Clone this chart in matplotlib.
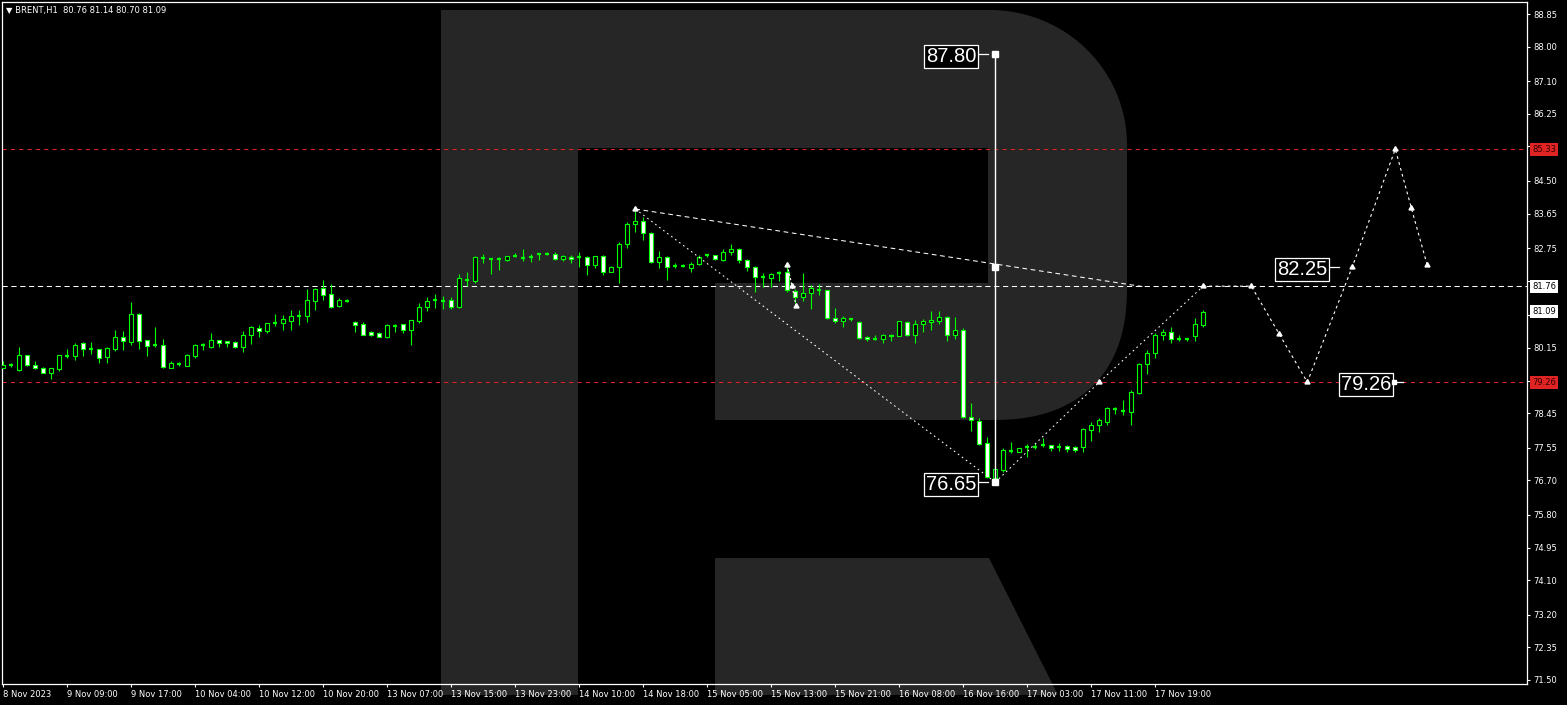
import matplotlib
matplotlib.use('Agg')
import matplotlib.pyplot as plt
import matplotlib.transforms as mtransforms
from matplotlib.patches import Rectangle, Polygon
import numpy as np

W, H = 1567, 705
GREEN = '#00ff00'
RED = '#e02424'
GRAY = '#262626'

# ---------------- data (BRENT, H1) ----------------
opens = [79.64, 79.70, 79.57, 79.96, 79.70, 79.64, 79.51, 79.61, 79.95, 79.95,
         80.27, 80.13, 80.11, 79.92, 80.13, 80.43, 80.31, 81.03, 80.35, 80.22,
         80.22, 79.64, 79.73, 79.69, 79.95, 80.22, 80.18, 80.35, 80.32, 80.30,
         80.18, 80.50, 80.66, 80.60, 80.81, 80.81, 80.86, 80.98, 80.99, 81.38,
         81.70, 81.56, 81.25, 81.38, 80.82, 80.77, 80.57, 80.53, 80.44, 80.72,
         80.77, 80.63, 80.85, 81.21, 81.40, 81.38, 81.39, 81.21, 81.92, 81.90,
         82.49, 82.46, 82.47, 82.45, 82.54, 82.50, 82.53, 82.59, 82.61, 82.61,
         82.46, 82.53, 82.51, 82.51, 82.30, 82.54, 82.14, 82.25, 82.87, 83.37,
         83.47, 83.14, 82.40, 82.53, 82.28, 82.29, 82.22, 82.33, 82.56, 82.56,
         82.44, 82.65, 82.74, 82.43, 82.25, 81.99, 81.96, 82.11, 82.12, 81.64,
         81.49, 81.57, 81.67, 81.65, 80.94, 80.86, 80.90, 80.82, 80.43, 80.39,
         80.39, 80.50, 80.46, 80.83, 80.48, 80.77, 80.82, 80.86, 80.95, 80.48,
         80.62, 78.34, 78.24, 77.67, 76.75, 76.97, 77.47, 77.45, 77.58, 77.58,
         77.61, 77.61, 77.58, 77.59, 77.57, 77.58, 78.00, 78.13, 78.23, 78.55,
         78.52, 78.49, 78.98, 79.72, 80.01, 80.48, 80.57, 80.38, 80.38, 80.47,
         80.76]
highs = [79.80, 79.75, 80.17, 79.97, 79.80, 79.65, 79.64, 79.97, 80.11, 80.27,
         80.31, 80.30, 80.12, 80.18, 80.62, 80.59, 81.35, 81.05, 80.37, 80.69,
         80.38, 79.80, 79.78, 79.99, 80.25, 80.28, 80.54, 80.36, 80.33, 80.33,
         80.59, 80.72, 80.75, 80.81, 81.03, 81.00, 81.14, 81.14, 81.69, 81.70,
         81.92, 81.82, 81.44, 81.42, 80.85, 80.82, 80.59, 80.57, 80.77, 80.77,
         80.78, 80.88, 81.31, 81.47, 81.55, 81.50, 81.49, 82.08, 82.13, 82.55,
         82.59, 82.48, 82.52, 82.55, 82.62, 82.72, 82.60, 82.63, 82.65, 82.65,
         82.56, 82.56, 82.65, 82.55, 82.55, 82.56, 82.28, 82.90, 83.43, 83.76,
         83.57, 83.16, 82.68, 82.55, 82.36, 82.35, 82.40, 82.57, 82.61, 82.57,
         82.72, 82.86, 82.75, 82.48, 82.29, 82.11, 82.11, 82.16, 82.31, 81.68,
         82.11, 81.78, 81.82, 81.67, 81.18, 80.98, 80.93, 80.86, 80.47, 80.50,
         80.51, 80.51, 80.86, 80.85, 80.87, 80.91, 81.10, 81.11, 80.97, 80.95,
         80.67, 78.71, 78.32, 77.82, 77.06, 77.54, 77.69, 77.55, 77.64, 77.67,
         77.80, 77.62, 77.67, 77.63, 77.60, 78.06, 78.23, 78.32, 78.60, 78.60,
         78.79, 79.06, 79.77, 80.10, 80.55, 80.64, 80.70, 80.49, 80.42, 80.92,
         81.14]
lows = [79.63, 79.66, 79.56, 79.69, 79.60, 79.50, 79.34, 79.56, 79.90, 79.84,
        79.94, 80.00, 79.77, 79.77, 80.08, 80.10, 80.23, 80.12, 79.94, 80.18,
        79.63, 79.62, 79.68, 79.68, 79.89, 80.10, 80.15, 80.18, 80.18, 80.15,
        80.04, 80.25, 80.44, 80.55, 80.72, 80.62, 80.62, 80.75, 80.83, 81.14,
        81.40, 81.20, 81.22, 81.35, 80.56, 80.49, 80.46, 80.43, 80.41, 80.57,
        80.54, 80.23, 80.80, 81.10, 81.18, 81.16, 81.17, 81.20, 81.76, 81.85,
        82.37, 82.08, 82.18, 82.42, 82.53, 82.42, 82.39, 82.44, 82.56, 82.44,
        82.41, 82.37, 82.27, 82.06, 82.24, 82.06, 82.12, 81.85, 82.76, 83.17,
        82.95, 82.37, 82.23, 81.93, 82.22, 82.25, 82.13, 82.32, 82.53, 82.45,
        82.42, 82.58, 82.37, 82.15, 81.62, 81.73, 81.73, 81.90, 81.62, 81.31,
        81.38, 81.17, 81.52, 80.90, 80.81, 80.70, 80.84, 80.38, 80.32, 80.36,
        80.29, 80.34, 80.45, 80.46, 80.27, 80.57, 80.62, 80.77, 80.34, 80.39,
        78.32, 77.99, 77.61, 76.75, 76.65, 76.93, 77.42, 77.44, 77.32, 77.52,
        77.58, 77.47, 77.47, 77.45, 77.44, 77.44, 77.73, 77.96, 78.15, 78.42,
        78.40, 78.13, 78.95, 79.48, 79.89, 80.36, 80.29, 80.33, 80.33, 80.34,
        80.70]
closes = [79.71, 79.70, 79.96, 79.71, 79.64, 79.51, 79.62, 79.96, 79.96, 80.24,
          80.13, 80.12, 79.90, 80.15, 80.43, 80.34, 81.03, 80.34, 80.19, 80.23,
          79.66, 79.75, 79.73, 79.96, 80.22, 80.22, 80.37, 80.29, 80.27, 80.18,
          80.48, 80.69, 80.60, 80.79, 80.81, 80.90, 80.98, 80.98, 81.39, 81.68,
          81.54, 81.23, 81.39, 81.38, 80.76, 80.50, 80.50, 80.44, 80.74, 80.72,
          80.63, 80.87, 81.22, 81.37, 81.40, 81.38, 81.23, 81.96, 81.92, 82.51,
          82.49, 82.46, 82.47, 82.54, 82.54, 82.50, 82.53, 82.59, 82.61, 82.46,
          82.55, 82.48, 82.51, 82.30, 82.54, 82.12, 82.25, 82.85, 83.37, 83.47,
          83.14, 82.40, 82.51, 82.27, 82.28, 82.29, 82.33, 82.53, 82.56, 82.46,
          82.64, 82.74, 82.43, 82.25, 81.99, 81.99, 82.08, 82.11, 81.66, 81.49,
          81.57, 81.70, 81.67, 80.94, 80.86, 80.92, 80.90, 80.42, 80.38, 80.39,
          80.50, 80.45, 80.85, 80.48, 80.77, 80.84, 80.88, 80.95, 80.49, 80.62,
          78.34, 78.27, 77.64, 76.78, 76.99, 77.48, 77.47, 77.54, 77.58, 77.58,
          77.61, 77.55, 77.58, 77.53, 77.50, 78.03, 78.13, 78.27, 78.58, 78.55,
          78.52, 78.99, 79.72, 80.01, 80.48, 80.57, 80.38, 80.38, 80.38, 80.77,
          81.09]

x_labels = ['8 Nov 2023', '9 Nov 09:00', '9 Nov 17:00', '10 Nov 04:00', '10 Nov 12:00',
            '10 Nov 20:00', '13 Nov 07:00', '13 Nov 15:00', '13 Nov 23:00', '14 Nov 10:00',
            '14 Nov 18:00', '15 Nov 05:00', '15 Nov 13:00', '15 Nov 21:00', '16 Nov 08:00',
            '16 Nov 16:00', '17 Nov 03:00', '17 Nov 11:00', '17 Nov 19:00']
label_every = 8
y_ticks = [88.85, 88.00, 87.10, 86.25, 85.40, 84.50, 83.65, 82.75, 81.90, 81.00, 80.15,
           79.30, 78.45, 77.55, 76.70, 75.80, 74.95, 74.10, 73.20, 72.35, 71.50]
# tick labels hidden behind the price tags in the reference
y_hidden = [85.40, 81.90, 81.00, 79.30]

level_white = 81.76
levels_red = [85.33, 79.26]

# analysis lines (bar index, price)
peak_bar, peak_price = 79, 83.77
upper_line_x, upper_line_y = [79, 142.7], [83.77, 81.74]
down_line_x, down_line_y = [79, 124], [83.77, 76.65]
up_line_x, up_line_y = [124, 137, 150], [76.65, 79.26, 81.76]
fc_x = [150, 156, 159.5, 163, 168.6, 174, 176, 178]
fc_y = [81.76, 81.76, 80.51, 79.26, 82.25, 85.33, 83.80, 82.30]
small_x, small_y = [98, 98.6, 99.1], [82.31, 81.76, 81.24]
measure_bar, measure_hi, measure_lo, measure_mid = 124, 87.80, 76.65, 82.26
label_82_bar, label_79_bar = 167, 175

# ---------------- figure ----------------
fig = plt.figure(figsize=(W / 100, H / 100), dpi=100, facecolor='black')

# watermark logo in background (pixel coordinates)
bg = fig.add_axes([0, 0, 1, 1], zorder=0)
bg.set_xlim(0, W)
bg.set_ylim(H, 0)
bg.axis('off')
bg.set_facecolor('black')


def corner(cx, cy, rx, ry, a0, a1, n=2.0, num=40):
    t = np.linspace(np.radians(a0), np.radians(a1), num)
    c, s = np.cos(t), np.sin(t)
    xs = cx + rx * np.sign(c) * np.abs(c) ** (2 / n)
    ys = cy - ry * np.sign(s) * np.abs(s) ** (2 / n)
    return list(zip(xs, ys))


bowl = [(441, 10), (990, 10)] + corner(990, 145, 137, 135, 90, 0) + \
       corner(990, 285, 137, 135, 0, -90, n=2.4) + [(441, 420)]
bg.add_patch(Polygon(bowl, closed=True, facecolor=GRAY, edgecolor='none'))
bg.add_patch(Rectangle((441, 10), 137, 685, facecolor=GRAY, edgecolor='none'))
bg.add_patch(Polygon([(715, 558), (989, 558), (1058, 695), (715, 695)], closed=True,
                     facecolor=GRAY, edgecolor='none'))
bg.add_patch(Rectangle((578, 148), 410, 135, facecolor='black', edgecolor='none'))
bg.add_patch(Rectangle((578, 148), 137, 272, facecolor='black', edgecolor='none'))

# main chart axes
ax = fig.add_axes([2 / W, (H - 684) / H, 1525 / W, 682 / H], zorder=1)
ax.set_facecolor('none')
px_per_bar = 8.0
x0 = (2 - 3.3) / px_per_bar
ax.set_xlim(x0, x0 + 1525 / px_per_bar)
ppu = 38.386
ax.set_ylim(88.85 - 670 / ppu, 88.85 + 12 / ppu)

for sp in ax.spines.values():
    sp.set_color('white')
    sp.set_linewidth(0.9)

# candles
bw = 0.5
for i, (o, h, l, c) in enumerate(zip(opens, highs, lows, closes)):
    ax.plot([i, i], [l, h], color=GREEN, lw=0.8, solid_capstyle='butt', zorder=3)
    if abs(c - o) < 0.015:
        ax.plot([i - bw / 2, i + bw / 2], [o, o], color=GREEN, lw=1.6,
                solid_capstyle='butt', zorder=4)
    else:
        face = 'black' if c > o else 'white'
        ax.add_patch(Rectangle((i - bw / 2, min(o, c)), bw, abs(c - o),
                               facecolor=face, edgecolor=GREEN, lw=0.8, zorder=4))

# levels
ax.axhline(level_white, color='white', lw=0.75, ls=(0, (5, 3.5)), zorder=2)
for lv in levels_red:
    ax.axhline(lv, color=RED, lw=0.75, ls=(0, (4, 4)), zorder=2)

# analysis lines
dot = (0, (1.6, 3.2))
ax.plot(upper_line_x, upper_line_y, color='white', lw=0.75, ls=(0, (4.5, 3.5)), zorder=5)
ax.plot(down_line_x, down_line_y, color='white', lw=0.75, ls=dot, zorder=5)
ax.plot(up_line_x, up_line_y, color='white', lw=0.75, ls=dot, zorder=5)
ax.plot(up_line_x[1:], up_line_y[1:], ls='none', marker=(3, 0, 0), ms=4.2,
        color='white', zorder=6)
ax.plot([peak_bar], [peak_price], ls='none', marker=(3, 0, 0), ms=4.2, color='white', zorder=6)
ax.plot(fc_x, fc_y, color='white', lw=0.8, ls=(0, (2.5, 3)), zorder=5)
ax.plot(fc_x[1:], fc_y[1:], ls='none', marker=(3, 0, 0), ms=4.2, color='white', zorder=6)
ax.plot(small_x, small_y, color='white', lw=0.8, ls=(0, (2, 2)), zorder=5)
ax.plot(small_x, small_y, ls='none', marker=(3, 0, 0), ms=4.2, color='white', zorder=6)

# vertical measurement
ax.plot([measure_bar, measure_bar], [measure_lo, measure_hi], color='white', lw=1.0, zorder=5)
ax.plot([measure_bar] * 3, [measure_hi, measure_lo, measure_mid], ls='none', marker='s',
        ms=3.8, color='white', zorder=6)

# boxed labels
lab_font = ['Liberation Sans Narrow', 'Liberation Sans', 'DejaVu Sans']
box = dict(facecolor='black', edgecolor='white', linewidth=0.9, boxstyle='square,pad=0.1')


def boxed(xbar, price, text, gap_bars=1.3):
    xr = xbar - gap_bars
    ax.plot([xr, xr + 1.25], [price, price], color='white', lw=0.9, zorder=7)
    ax.text(xr - 0.2, price, text, ha='right', va='center_baseline', fontsize=14.5,
            family=lab_font, color='white', bbox=box, zorder=8)


boxed(measure_bar - 0.9, measure_hi, f'{measure_hi:.2f}')
boxed(measure_bar - 0.9, measure_lo, f'{measure_lo:.2f}')
boxed(label_82_bar, 82.25, '82.25')
boxed(label_79_bar, 79.26, '79.26')
ax.plot([label_79_bar - 1.2], [79.26], ls='none', marker='s', ms=2.5, color='white', zorder=8)

# axes ticks
ax.set_xticks([i * label_every for i in range(len(x_labels))])
ax.set_xticklabels(x_labels)
for t in ax.get_xticklabels():
    t.set_ha('left')
ax.tick_params(axis='x', colors='white', labelsize=6, length=2.5, width=0.8,
               direction='out', pad=1.5)
ax.yaxis.tick_right()
ax.set_yticks(y_ticks)
ax.set_yticklabels(['' if v in y_hidden else f'{v:.2f}' for v in y_ticks])
ax.tick_params(axis='y', colors='white', labelsize=6, length=2.5, width=0.8,
               direction='out', pad=2)

# price tags on the right axis
tag_tr = mtransforms.blended_transform_factory(fig.transFigure, ax.transData)
last_close = closes[-1]
tags = [(level_white, 'white', 'black'), (last_close, 'white', 'black'),
        (levels_red[0], RED, '#300000'), (levels_red[1], RED, '#300000')]
for val, bgc, fgc in tags:
    ax.text(1532 / W, val, f'{val:.2f}', transform=tag_tr, ha='left', va='center',
            fontsize=6, color=fgc, clip_on=False, zorder=20,
            bbox=dict(facecolor=bgc, edgecolor='none', boxstyle='square,pad=0.25'))

# title
fig.text(6 / W, 1 - 11 / H,
         f'\u25bc BRENT,H1  {opens[-1]:.2f} {highs[-1]:.2f} {lows[-1]:.2f} {closes[-1]:.2f}',
         fontsize=6, color='white', va='center', ha='left', family='DejaVu Sans')

fig.savefig('out.png', dpi=100, facecolor='black')
